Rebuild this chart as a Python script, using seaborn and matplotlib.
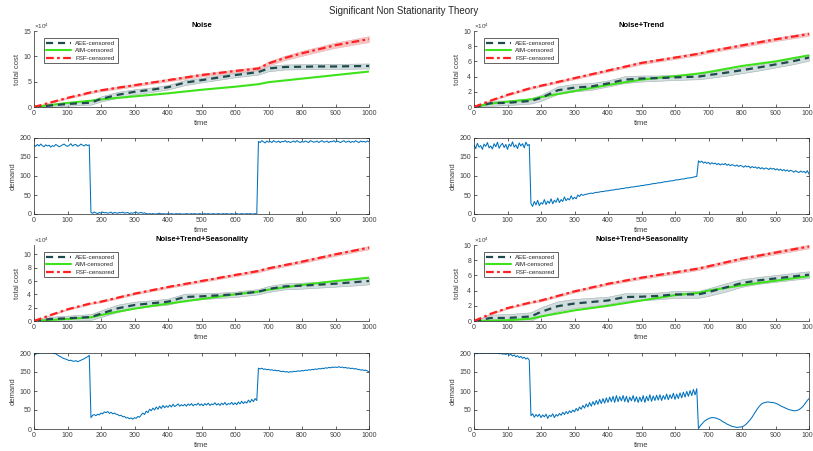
import numpy as np
import pandas as pd
import seaborn as sns
import matplotlib
matplotlib.use('Agg')
import matplotlib.pyplot as plt

# ---- cost curves (x 1e4), sampled at these times ----
time_cost = [0, 50, 100, 170, 200, 250, 300, 350, 400, 450, 500,
             550, 600, 670, 700, 750, 800, 850, 900, 950, 1000]

fsf_noise = [0, 0.9, 1.8, 2.9, 3.3, 3.8, 4.3, 4.8, 5.3, 5.8, 6.3, 6.7, 7.1, 7.6, 8.6, 9.7, 10.6, 11.4, 12.2, 12.8, 13.4]
aim_noise = [0, 0.4, 0.8, 1.25, 1.5, 1.8, 2.1, 2.4, 2.7, 3.05, 3.4, 3.7, 4.0, 4.5, 4.9, 5.25, 5.6, 5.95, 6.3, 6.65, 7.0]
aee_noise = [0, 0.3, 0.6, 0.85, 1.6, 2.4, 3.0, 3.4, 3.9, 4.8, 5.3, 5.8, 6.3, 6.9, 7.6, 7.9, 7.95, 8.0, 8.0, 8.05, 8.1]
aee_band_noise = [0, 0.3, 0.35, 0.4, 0.5, 0.6, 0.5, 0.45, 0.45, 0.5, 0.45, 0.45, 0.45, 0.5, 0.55, 0.5, 0.5, 0.5, 0.5, 0.5, 0.5]
fsf_band_noise = [0, 0.1, 0.15, 0.2, 0.2, 0.25, 0.25, 0.25, 0.25, 0.3, 0.3, 0.3, 0.3, 0.35, 0.4, 0.45, 0.5, 0.5, 0.55, 0.55, 0.6]

fsf_trend = [0, 0.85, 1.6, 2.5, 2.8, 3.3, 3.8, 4.3, 4.8, 5.3, 5.8, 6.15, 6.5, 7.0, 7.3, 7.7, 8.1, 8.5, 8.9, 9.25, 9.6]
aim_trend = [0, 0.45, 0.7, 1.0, 1.3, 1.7, 2.1, 2.5, 2.9, 3.25, 3.6, 3.85, 4.05, 4.4, 4.6, 5.0, 5.4, 5.7, 6.0, 6.4, 6.8]
aee_trend = [0, 0.5, 0.55, 0.8, 1.2, 2.2, 2.55, 2.7, 3.1, 3.6, 3.75, 3.8, 3.9, 4.0, 4.2, 4.5, 4.85, 5.2, 5.6, 6.0, 6.5]
aee_band_trend = [0, 0.35, 0.3, 0.35, 0.4, 0.5, 0.5, 0.45, 0.4, 0.45, 0.4, 0.35, 0.35, 0.35, 0.4, 0.4, 0.4, 0.4, 0.4, 0.4, 0.4]
fsf_band_trend = [0, 0.08, 0.1, 0.12, 0.12, 0.14, 0.15, 0.15, 0.16, 0.17, 0.18, 0.18, 0.19, 0.2, 0.2, 0.2, 0.22, 0.22, 0.23, 0.24, 0.25]

fsf_season_a = [0, 0.9, 1.75, 2.65, 2.9, 3.5, 4.1, 4.6, 5.1, 5.55, 6.0, 6.45, 6.9, 7.5, 7.9, 8.4, 8.9, 9.45, 10.0, 10.5, 11.0]
aim_season_a = [0, 0.15, 0.3, 0.55, 0.9, 1.4, 1.85, 2.25, 2.6, 2.95, 3.3, 3.65, 4.0, 4.4, 4.7, 5.05, 5.4, 5.7, 6.0, 6.25, 6.5]
aee_season_a = [0, 0.3, 0.4, 0.6, 1.1, 1.9, 2.4, 2.65, 2.9, 3.6, 3.7, 3.85, 4.0, 4.4, 4.8, 5.2, 5.3, 5.45, 5.6, 5.8, 6.0]
aee_band_season_a = [0, 0.35, 0.4, 0.45, 0.5, 0.55, 0.5, 0.45, 0.45, 0.5, 0.45, 0.4, 0.4, 0.4, 0.45, 0.45, 0.45, 0.45, 0.45, 0.5, 0.5]
fsf_band_season_a = [0, 0.08, 0.1, 0.12, 0.12, 0.14, 0.15, 0.15, 0.16, 0.17, 0.18, 0.18, 0.19, 0.2, 0.2, 0.2, 0.22, 0.22, 0.23, 0.24, 0.25]

fsf_season_b = [0, 0.95, 1.7, 2.45, 2.7, 3.3, 3.9, 4.4, 4.9, 5.3, 5.7, 6.05, 6.4, 6.9, 7.2, 7.7, 8.2, 8.6, 9.0, 9.4, 9.8]
aim_season_b = [0, 0.05, 0.1, 0.3, 0.6, 1.0, 1.4, 1.7, 2.0, 2.35, 2.7, 3.05, 3.4, 3.7, 4.0, 4.35, 4.7, 5.0, 5.3, 5.6, 5.9]
aee_season_b = [0, 0.4, 0.4, 0.6, 1.2, 1.95, 2.3, 2.5, 2.7, 3.15, 3.2, 3.3, 3.5, 3.5, 3.8, 4.4, 5.0, 5.35, 5.6, 5.85, 6.1]
aee_band_season_b = [0, 0.45, 0.5, 0.55, 0.6, 0.65, 0.6, 0.55, 0.5, 0.5, 0.45, 0.45, 0.45, 0.45, 0.5, 0.55, 0.5, 0.45, 0.45, 0.45, 0.45]
fsf_band_season_b = [0, 0.08, 0.1, 0.12, 0.12, 0.14, 0.15, 0.15, 0.16, 0.17, 0.18, 0.18, 0.19, 0.2, 0.2, 0.2, 0.22, 0.22, 0.23, 0.24, 0.25]

# ---- demand, every 5 time steps (one row = 50 steps) ----
demand_noise = [
    181, 178, 183, 179, 184, 180, 177, 182, 179, 181,
    176, 180, 178, 183, 180, 177, 179, 182, 184, 180,
    178, 181, 185, 179, 182, 183, 178, 180, 184, 181,
    179, 183, 180, 182, 4, 2, 5, 3, 1, 4,
    2, 5, 3, 4, 2, 3, 5, 1, 4, 3,
    2, 4, 3, 5, 2, 3, 4, 1, 3, 2,
    4, 5, 2, 3, 4, 2, 3, 1, 0, 1,
    0, 1, 0, 0, 1, 2, 0, 1, 0, 0,
    1, 0, 1, 0, 0, 1, 0, 1, 0, 0,
    0, 1, 0, 0, 1, 0, 1, 0, 0, 1,
    0, 0, 1, 0, 1, 0, 0, 1, 0, 0,
    1, 0, 0, 1, 0, 1, 0, 0, 1, 0,
    0, 1, 0, 0, 1, 0, 0, 1, 0, 1,
    0, 0, 1, 0, 191, 188, 193, 190, 187, 192,
    189, 191, 188, 193, 190, 189, 192, 188, 191, 190,
    193, 189, 191, 188, 190, 192, 189, 193, 190, 188,
    191, 189, 192, 190, 188, 193, 191, 189, 190, 192,
    188, 191, 193, 189, 190, 192, 188, 191, 190, 193,
    189, 192, 190, 188, 191, 193, 189, 190, 192, 188,
    191, 189, 193, 190, 188, 192, 190, 191, 189, 192,
    190]

demand_trend = [
    182, 172, 186, 176, 180, 170, 184, 178, 188, 174,
    179, 171, 185, 177, 189, 173, 181, 186, 175, 183,
    170, 184, 178, 190, 176, 182, 172, 187, 179, 185,
    174, 189, 180, 183, 28, 20, 33, 24, 36, 22,
    30, 26, 38, 25, 34, 28, 40, 27, 36, 31,
    42, 30, 38, 33, 45, 35, 41, 37, 48, 39,
    44, 40, 50, 46, 52, 49, 51, 52, 53, 54,
    55, 54, 56, 57, 57, 58, 59, 59, 60, 61,
    61, 62, 63, 63, 64, 65, 65, 66, 67, 67,
    68, 69, 69, 70, 71, 71, 72, 73, 73, 74,
    75, 75, 76, 77, 77, 78, 79, 80, 80, 81,
    82, 82, 83, 84, 85, 85, 86, 87, 87, 88,
    89, 90, 90, 91, 92, 92, 93, 94, 95, 95,
    96, 97, 98, 99, 140, 136, 139, 134, 137, 133,
    136, 131, 135, 132, 134, 130, 133, 129, 132, 130,
    133, 128, 131, 127, 130, 128, 126, 129, 125, 128,
    126, 123, 127, 124, 126, 121, 125, 122, 124, 120,
    123, 119, 122, 118, 121, 120, 117, 121, 118, 120,
    116, 119, 115, 118, 114, 117, 113, 116, 112, 115,
    113, 110, 114, 111, 109, 113, 110, 112, 108, 114,
    105]

demand_season_a = [
    194, 197, 199, 200, 201, 200, 201, 200, 201, 200,
    201, 200, 199, 198, 195, 192, 190, 187, 185, 184,
    182, 180, 181, 179, 178, 180, 177, 179, 181, 183,
    185, 188, 190, 194, 30, 36, 38, 35, 39, 37,
    42, 40, 45, 43, 46, 41, 44, 40, 42, 39,
    38, 35, 36, 32, 33, 29, 30, 27, 29, 26,
    30, 28, 33, 31, 37, 42, 38, 47, 43, 52,
    48, 55, 50, 58, 52, 60, 54, 62, 56, 61,
    57, 63, 58, 65, 59, 62, 66, 60, 64, 61,
    65, 60, 66, 62, 67, 61, 65, 63, 68, 62,
    66, 61, 67, 63, 68, 62, 66, 64, 69, 63,
    67, 62, 68, 64, 70, 63, 67, 65, 70, 64,
    69, 64, 71, 66, 73, 67, 72, 68, 76, 70,
    78, 72, 80, 75, 160, 158, 160, 157, 158, 156,
    157, 155, 156, 154, 155, 153, 154, 152, 151, 152,
    150, 151, 149, 151, 150, 152, 151, 152, 153, 152,
    154, 153, 155, 154, 156, 155, 157, 156, 158, 157,
    159, 158, 160, 159, 161, 160, 162, 161, 163, 162,
    163, 162, 164, 162, 163, 161, 162, 160, 161, 159,
    160, 158, 159, 157, 157, 155, 156, 154, 155, 153,
    150]

demand_season_b = [
    198, 199, 198, 200, 199, 200, 199, 200, 200, 199,
    200, 199, 200, 199, 200, 198, 199, 197, 198, 196,
    199, 194, 197, 192, 195, 190, 193, 188, 191, 186,
    189, 184, 187, 181, 35, 40, 31, 38, 33, 39,
    30, 37, 32, 39, 28, 36, 33, 40, 30, 38,
    34, 41, 36, 44, 38, 46, 40, 48, 43, 50,
    45, 54, 48, 58, 52, 62, 55, 66, 58, 70,
    60, 72, 63, 75, 65, 78, 67, 80, 68, 82,
    70, 84, 72, 86, 70, 88, 72, 85, 74, 88,
    72, 86, 70, 84, 74, 88, 72, 85, 70, 84,
    72, 88, 70, 86, 74, 90, 73, 87, 75, 89,
    76, 90, 75, 88, 78, 92, 77, 90, 80, 94,
    78, 92, 80, 95, 82, 97, 84, 99, 86, 101,
    88, 104, 90, 106, 1, 8, 13, 18, 22, 25,
    27, 29, 30, 30, 29, 28, 26, 24, 21, 18,
    16, 13, 11, 9, 7, 6, 5, 4, 5, 5,
    6, 8, 11, 15, 20, 25, 31, 38, 45, 52,
    58, 63, 67, 69, 70, 71, 71, 70, 70, 69,
    68, 66, 64, 61, 59, 57, 55, 53, 51, 50,
    49, 48, 48, 49, 51, 54, 58, 63, 69, 75,
    80]

time_demand = np.arange(0, 1001, 5)

titles = ['Noise', 'Noise+Trend', 'Noise+Trend+Seasonality', 'Noise+Trend+Seasonality']
cost_ylims = [15, 10, 11.4, 10]
cost_yticks = [[0, 5, 10, 15], [0, 2, 4, 6, 8, 10], [0, 2, 4, 6, 8, 10], [0, 2, 4, 6, 8, 10]]

panels = [
    (aee_noise, aee_band_noise, aim_noise, fsf_noise, fsf_band_noise, demand_noise),
    (aee_trend, aee_band_trend, aim_trend, fsf_trend, fsf_band_trend, demand_trend),
    (aee_season_a, aee_band_season_a, aim_season_a, fsf_season_a, fsf_band_season_a, demand_season_a),
    (aee_season_b, aee_band_season_b, aim_season_b, fsf_season_b, fsf_band_season_b, demand_season_b),
]

sns.set_style('ticks')
plt.rcParams['font.family'] = ['Liberation Sans', 'DejaVu Sans']
plt.rcParams['mathtext.fontset'] = 'custom'
plt.rcParams['mathtext.rm'] = 'Liberation Sans'

axis_col = '#262626'
tick_col = '#404040'
c_aee = '#1f4a4f'
c_aim = '#3ee21b'
c_fsf = '#ff2020'
c_dem = '#0072BD'

fig = plt.figure(figsize=(8.13, 4.51), dpi=100)
W, H = 813, 451
col_left = [34, 474]
col_width = 335
row_tops = [31, 138, 245, 353]
ax_h = 76


def make_ax(px_left, px_top):
    return fig.add_axes([px_left / W, 1 - (px_top + ax_h) / H, col_width / W, ax_h / H])


def style_ax(ax, box):
    for side in ['left', 'bottom', 'top', 'right']:
        ax.spines[side].set_color(axis_col)
        ax.spines[side].set_linewidth(0.5)
    ax.spines['top'].set_visible(box)
    ax.spines['right'].set_visible(box)
    ax.tick_params(direction='in', length=2, width=0.5, colors=axis_col,
                   labelsize=5, labelcolor=tick_col, pad=2,
                   top=box, right=box)
    ax.set_xlim(0, 1000)
    ax.set_xticks(range(0, 1001, 100))
    ax.set_xlabel('time', fontsize=5.5, color=tick_col, labelpad=2)


for i, (aee, aee_b, aim, fsf, fsf_b, dem) in enumerate(panels):
    col = i % 2
    row = (i // 2) * 2
    ax = make_ax(col_left[col], row_tops[row])
    aee = np.array(aee)
    fsf = np.array(fsf)
    ax.fill_between(time_cost, aee - np.array(aee_b), aee + np.array(aee_b),
                    facecolor='#cbd7d7', edgecolor='#95a5a5', linewidth=0.4, alpha=0.85, zorder=1)
    ax.fill_between(time_cost, fsf - np.array(fsf_b), fsf + np.array(fsf_b),
                    facecolor='#f4b8b8', edgecolor='#e89a9a', linewidth=0.3, alpha=0.8, zorder=1)
    sns.lineplot(x=time_cost, y=aee, ax=ax, color=c_aee, linewidth=1.6,
                 linestyle=(0, (3.2, 2.2)), label='AEE-censored', zorder=3)
    sns.lineplot(x=time_cost, y=aim, ax=ax, color=c_aim, linewidth=1.5,
                 label='AIM-censored', zorder=2)
    sns.lineplot(x=time_cost, y=fsf, ax=ax, color=c_fsf, linewidth=1.6,
                 linestyle=(0, (3.5, 1.5, 1.2, 1.5)), label='FSF-censored', zorder=4)
    style_ax(ax, box=False)
    ax.set_ylim(0, cost_ylims[i])
    ax.set_yticks(cost_yticks[i])
    ax.set_ylabel('total cost', fontsize=5.5, color=tick_col, labelpad=2)
    ax.set_title(titles[i], fontsize=5.5, fontweight='bold', color='black', pad=3)
    ax.text(0.0, 1.0, r'$\times10^{4}$', transform=ax.transAxes, fontsize=4.5,
            color=tick_col, ha='left', va='bottom')
    leg = ax.legend(loc='upper left', bbox_to_anchor=(0.02, 0.95), fontsize=4.5,
                    handlelength=4, handletextpad=0.6, borderpad=0.4,
                    labelspacing=0.35, fancybox=False, framealpha=1)
    leg.get_frame().set_edgecolor(axis_col)
    leg.get_frame().set_linewidth(0.5)

    ax2 = make_ax(col_left[col], row_tops[row + 1])
    sns.lineplot(x=time_demand, y=dem, ax=ax2, color=c_dem, linewidth=0.75)
    style_ax(ax2, box=True)
    ax2.set_ylim(0, 200)
    ax2.set_yticks([0, 50, 100, 150, 200])
    ax2.set_ylabel('demand', fontsize=5.5, color=tick_col, labelpad=2)

fig.text(0.497, 0.976, 'Significant Non Stationarity Theory', ha='center', va='center',
         fontsize=7, color='#262626')

fig.savefig('out.png', dpi=100)
